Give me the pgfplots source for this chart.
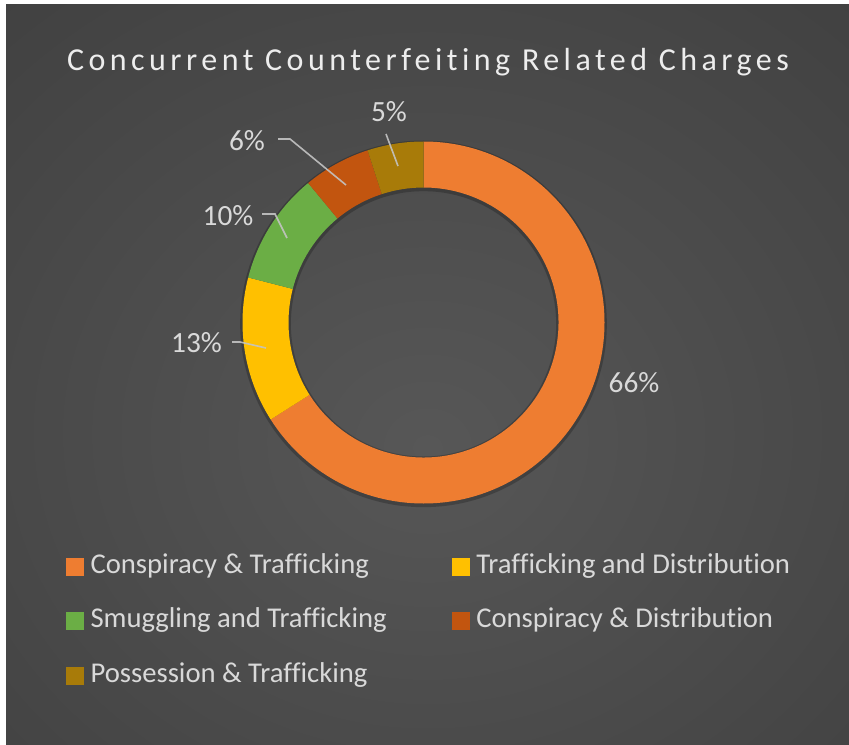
\documentclass[border=0pt]{standalone}
\usepackage{pgfplots}
\pgfplotsset{compat=1.18}
\usepackage{fontspec}
\setmainfont{Carlito}[Ligatures=NoCommon]

\definecolor{cConsTraf}{HTML}{EE7D31}
\definecolor{cTrafDist}{HTML}{FFC000}
\definecolor{cSmug}{HTML}{6BAE45}
\definecolor{cConsDist}{HTML}{C2550F}
\definecolor{cPoss}{HTML}{A87B09}
\definecolor{txtgray}{HTML}{D9D9D9}
\definecolor{linegray}{HTML}{C4C4C4}
\definecolor{bgin}{HTML}{575757}
\definecolor{bgmid}{HTML}{3D3D3D}
\definecolor{bgout}{HTML}{282828}

\pgfdeclareradialshading{bgshade}{\pgfpoint{0bp}{-5bp}}{%
  color(0bp)=(bgin); color(45bp)=(bgmid); color(100bp)=(bgout)}

% ring geometry (1 px = 0.75pt): outer 181px, inner 135px
\newcommand\Rout{135.75pt}
\newcommand\Rin{101.25pt}
% \slice{start pct}{end pct}{colour}, clockwise from 12 o'clock
\newcommand\slice[3]{%
  \fill[#3] ({90-3.6*#1}:\Rout)
    arc[start angle={90-3.6*#1}, end angle={90-3.6*#2}, radius=\Rout]
    -- ({90-3.6*#2}:\Rin)
    arc[start angle={90-3.6*#2}, end angle={90-3.6*#1}, radius=\Rin] -- cycle;}

\begin{document}
\begin{tikzpicture}
\begin{axis}[
  x=0.75pt, y=0.75pt,
  xmin=0, xmax=849, ymin=0, ymax=744,
  hide axis, clip=false,
  legend columns=2,
  legend cell align=left,
  legend style={at={(axis cs:62,193)}, anchor=north west,
    draw=none, fill=none, text=txtgray,
    font=\fontsize{21.5}{25}\selectfont,
    row sep=22pt,
    nodes={inner sep=0pt, text height=14.5pt, text depth=4.5pt},
    /tikz/column 2/.style={column sep=49pt}},
  legend image code/.code={%
    \fill[#1] (0pt,-6.2pt) rectangle (12.6pt,6.4pt);
    \path[draw=none, fill=none] (18pt,0pt);},
]
% background
\fill[white] (axis cs:0,0) rectangle (axis cs:849,744);
\shade[shading=bgshade] (axis cs:6,0) rectangle (axis cs:849,739);

% donut: 66, 13, 10, 6, 5 percent
\begin{scope}[shift={(axis cs:423.5,421.5)}]
  \fill[black, opacity=0.22, even odd rule] (0,-1pt) circle[radius=137.5pt] (0,-1pt) circle[radius=99.5pt];
  \slice{0}{66}{cConsTraf}
  \slice{66}{79}{cTrafDist}
  \slice{79}{89}{cSmug}
  \slice{89}{95}{cConsDist}
  \slice{95}{100}{cPoss}
\end{scope}

% leader lines
\begin{scope}[linegray, line width=1.2pt, opacity=0.9]
\draw (axis cs:232,402) -- (axis cs:240,402) -- (axis cs:266,396);
\draw (axis cs:262,530) -- (axis cs:275,530) -- (axis cs:287,506);
\draw (axis cs:278,605) -- (axis cs:290,605) -- (axis cs:346,559);
\draw (axis cs:386,610) -- (axis cs:398,578);
\end{scope}

% data labels
\begin{scope}[every node/.style={text=txtgray, font=\fontsize{22}{26}\selectfont, inner sep=0pt}]
  \node at (axis cs:634,361) {66\%};
  \node at (axis cs:196.5,401) {13\%};
  \node at (axis cs:228,528) {10\%};
  \node at (axis cs:247,603) {6\%};
  \node at (axis cs:389,632) {5\%};
\end{scope}

% title
\node[text=white!93!black, font=\fontsize{24}{29}\selectfont\addfontfeatures{LetterSpace=14}]
  at (axis cs:428,682) {Concurrent Counterfeiting Related Charges};

\addlegendimage{cConsTraf}
\addlegendentry{Conspiracy \& Trafficking}
\addlegendimage{cTrafDist}
\addlegendentry{Trafficking and Distribution}
\addlegendimage{cSmug}
\addlegendentry{Smuggling and Trafficking}
\addlegendimage{cConsDist}
\addlegendentry{Conspiracy \& Distribution}
\addlegendimage{cPoss}
\addlegendentry{Possession \& Trafficking}
\end{axis}
\end{tikzpicture}
\end{document}
